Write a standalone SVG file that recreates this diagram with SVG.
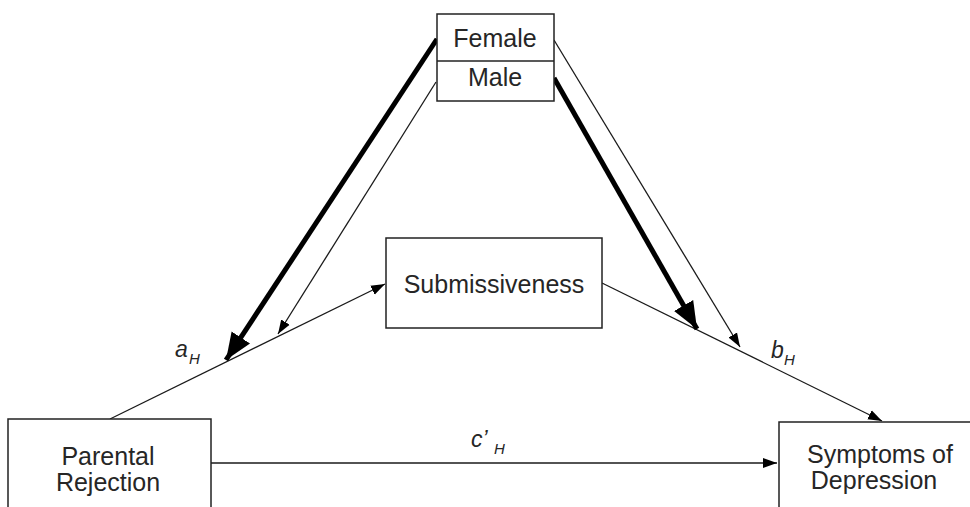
<svg xmlns="http://www.w3.org/2000/svg" width="970" height="507" viewBox="0 0 970 507">
<defs>
<style>
.box{fill:#fff;stroke:#222;stroke-width:1.5}
.lbl{font-family:"Liberation Sans",Arial,sans-serif;font-size:25px;fill:#262626;text-anchor:middle}
.it{font-family:"Liberation Sans",Arial,sans-serif;font-style:italic;fill:#262626}
.thin{stroke:#1a1a1a;stroke-width:1.3;fill:none}
.thick{stroke:#000;stroke-width:5;fill:none}
</style>
<marker id="ah" markerUnits="userSpaceOnUse" markerWidth="16" markerHeight="12" refX="14" refY="5" orient="auto" viewBox="0 0 16 10">
<path d="M0,0 L14,5 L0,10 Z" fill="#000"/>
</marker>
<marker id="ahb" markerUnits="userSpaceOnUse" markerWidth="30" markerHeight="24" refX="27" refY="11" orient="auto" viewBox="0 0 30 22">
<path d="M0,0 L27,11 L0,22 Z" fill="#000"/>
</marker>
</defs>
<rect width="970" height="507" fill="#fff"/>
<g id="connectors">
<line class="thin" x1="110" y1="419" x2="385" y2="284" marker-end="url(#ah)"/>
<line class="thin" x1="602" y1="283" x2="882" y2="421" marker-end="url(#ah)"/>
<line class="thin" x1="211" y1="463" x2="777" y2="463" marker-end="url(#ah)"/>
<line class="thick" x1="437" y1="39" x2="226" y2="360" marker-end="url(#ahb)"/>
<line class="thin" x1="436" y1="82" x2="278" y2="334" marker-end="url(#ah)"/>
<line class="thick" x1="554" y1="78" x2="697" y2="329" marker-end="url(#ahb)"/>
<line class="thin" x1="554" y1="40" x2="740" y2="347" marker-end="url(#ah)"/>
<text class="it" x="175" y="357" font-size="23">a</text>
<text class="it" x="189" y="364" font-size="15">H</text>
<text class="it" x="771" y="358" font-size="23">b</text>
<text class="it" x="784" y="365" font-size="15">H</text>
<text class="it" x="471" y="447" font-size="23">c’</text>
<text class="it" x="494" y="454" font-size="15">H</text>
</g>
<g id="gender">
<rect class="box" x="437" y="14" width="117" height="87"/>
<line class="box" x1="437" y1="61" x2="554" y2="61"/>
<text class="lbl" x="495" y="47">Female</text>
<text class="lbl" x="495" y="86">Male</text>
</g>
<g id="submissiveness">
<rect class="box" x="386" y="238" width="216" height="90"/>
<text class="lbl" x="494" y="293" font-size="26">Submissiveness</text>
</g>
<g id="parental-rejection">
<rect class="box" x="8" y="419" width="203" height="100"/>
<text class="lbl" x="108" y="465">Parental</text>
<text class="lbl" x="108" y="491">Rejection</text>
</g>
<g id="symptoms">
<rect class="box" x="779" y="422" width="205" height="100"/>
<text class="lbl" x="880" y="463">Symptoms of</text>
<text class="lbl" x="874" y="489">Depression</text>
</g>
</svg>
